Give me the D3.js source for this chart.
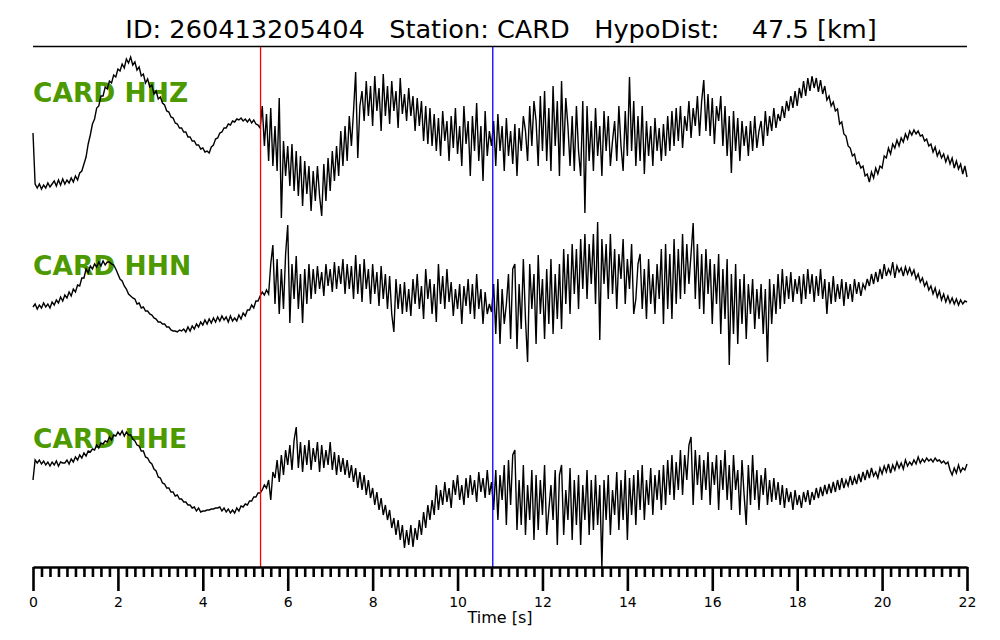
<!DOCTYPE html>
<html>
<head>
<meta charset="utf-8">
<script src="https://cdn.jsdelivr.net/npm/d3@7"></script>
<style>
  html, body { margin: 0; padding: 0; background: #ffffff; }
  svg { display: block; }
  text { font-family: "DejaVu Sans", sans-serif; }
</style>
</head>
<body>
<svg id="chart" width="1000" height="640"></svg>
<script>
// ---- data ----
const titleText = "ID: 260413205404   Station: CARD   HypoDist:    47.5 [km]";
const station = "CARD";
const channels = ["HHZ", "HHN", "HHE"];
const sampleStep = 0.05;            // seconds between samples
const pPick = 5.36;                 // red marker [s]
const sPick = 10.83;                // blue marker [s]
const majorTicks = [0, 2, 4, 6, 8, 10, 12, 14, 16, 18, 20, 22];
const xLabel = "Time [s]";

// amplitudes (relative units)
const hhz = [
3,-48,-52,-48,-53,-49,-52,-47,-51,-48,
-45,-50,-44,-49,-43,-48,-44,-47,-42,-46,
-40,-44,-37,-35,-28,-21,-8,1,12,17,
28,30,40,40,49,47,55,53,61,59,
67,65,72,68,77,73,79,71,74,66,
69,60,62,53,57,49,51,42,45,37,
39,33,31,25,24,19,18,13,12,8,
8,4,4,-1,-1,-5,-5,-9,-9,-13,
-12,-16,-15,-17,-11,-9,-3,-2,3,4,
8,8,12,11,15,14,17,16,18,15,
17,14,17,13,16,12,11,8,30,-10,
22,-25,28,-30,10,-35,38,-82,-5,-40,
-10,-50,-8,-55,-15,-60,-20,-70,-25,-58,
-30,-75,-35,-65,-30,-60,-80,-28,-65,-22,
-55,-15,-45,-10,-40,5,-30,10,-25,20,
-10,25,64,-22,30,45,15,55,20,50,
10,60,25,48,5,62,20,50,12,55,
25,45,8,58,22,42,15,48,20,40,
5,38,10,35,-5,30,-8,28,-10,22,
-15,18,-20,25,-5,15,-25,20,-12,28,
-18,10,-30,30,-8,15,-40,20,-15,33,
-25,10,-45,25,-20,5,-10,15,-30,22,
-15,10,-35,18,-20,5,-28,12,-40,8,
-15,20,5,-25,30,-10,35,15,-30,40,
-15,45,-25,28,-35,50,-10,35,-40,55,
-20,38,10,-30,20,-35,30,-15,-40,35,
-77,30,-25,15,-35,28,-20,10,-40,25,
-15,20,-30,-5,15,-25,30,-10,-35,25,
-20,59,-15,35,-30,20,-25,30,-38,15,
-20,10,-30,18,-15,8,-25,12,-20,20,
-15,25,-10,28,-5,30,-12,20,5,35,
-2,28,10,40,0,35,56,5,42,0,
38,-8,30,15,40,-10,30,-20,20,-37,
25,-15,18,-25,15,-10,10,-20,15,-15,
20,-12,5,15,-10,25,0,20,5,28,
8,22,15,30,18,35,25,40,28,45,
30,48,38,55,40,58,45,60,48,58,
44,56,42,50,36,40,30,34,25,27,
12,14,2,0,-10,-12,-20,-18,-28,-26,
-32,-30,-40,-38,-46,-36,-42,-32,-38,-30,
-32,-20,-22,-12,-18,-8,-12,-4,-10,-2,
-6,2,-3,5,1,6,2,5,0,1,
-5,-3,-10,-8,-16,-11,-20,-15,-22,-18,
-26,-20,-28,-22,-32,-25,-33,-28,-38,-30,
-41];

const hhn = [
-13,-10,-15,-11,-14,-9,-13,-10,-14,-8,
-11,-6,-9,-3,-7,-1,-4,2,-2,5,
2,9,8,16,16,25,21,28,25,30,
27,32,28,33,29,32,32,30,29,25,
20,15,13,8,5,0,-2,-4,-5,-10,
-9,-14,-13,-17,-17,-20,-21,-24,-25,-28,
-28,-30,-30,-33,-33,-36,-37,-37,-38,-36,
-37,-35,-38,-33,-37,-32,-35,-30,-33,-28,
-31,-26,-30,-25,-29,-24,-28,-23,-27,-22,
-26,-23,-28,-22,-27,-24,-27,-21,-25,-19,
-22,-16,-16,-11,-14,-7,-7,-2,2,-1,
4,0,30,49,-10,35,-20,25,-15,40,
69,-29,30,-5,38,-15,20,-29,25,-10,
30,-5,25,0,28,5,22,-2,30,8,
25,2,32,5,28,10,35,0,30,5,
28,-5,39,0,30,-8,35,5,25,-10,
30,0,22,-12,28,-5,20,-15,18,-20,
-38,15,-15,10,-20,12,-18,5,-22,15,
-10,20,-15,8,-25,25,-5,15,-20,10,
-28,30,-10,18,-15,25,-8,12,-22,5,
-15,10,-30,8,-12,15,-20,10,-25,20,
-15,5,-30,2,-20,-10,-18,10,-40,15,
-50,5,-30,-10,20,-45,25,30,-55,10,
-35,35,-25,-68,30,-15,20,-50,39,-20,
15,-45,25,-30,35,-40,20,-25,30,-35,
45,-10,40,-20,50,0,45,-15,55,5,
60,-5,50,10,60,-10,72,-46,55,10,
50,-5,60,0,45,-15,40,15,55,-10,
35,5,50,-20,-5,30,40,-15,25,-25,
35,-10,20,-20,30,-5,45,-30,50,-15,
40,-25,55,-10,45,-5,60,0,50,10,
40,71,-5,50,-15,40,-20,45,0,35,
-30,30,-10,40,-40,25,-25,35,-71,20,
-40,30,-50,15,-30,20,-45,10,-20,15,
-35,5,-25,10,-40,5,-68,15,-30,10,
-20,20,-15,25,-10,18,-5,22,-8,15,
0,18,-10,20,-5,25,0,20,-8,18,
-2,25,-5,15,-20,12,-10,18,-8,10,
-5,15,-12,12,-5,10,-8,15,0,12,
-2,10,5,15,8,20,10,22,12,25,
15,30,18,25,20,32,16,28,22,26,
18,27,20,26,19,24,15,20,12,16,
8,12,4,8,0,6,-3,3,-6,0,
-8,-2,-9,-4,-10,-5,-11,-6,-10,-7,
-8];

const hhe = [
10,30,27,30,26,29,25,28,24,28,
25,29,24,28,27,27,30,26,31,28,
33,30,35,32,37,34,39,38,41,40,
45,42,47,46,49,48,53,50,55,54,
58,55,59,54,58,55,55,51,49,45,
44,39,39,33,32,28,26,21,19,13,
12,7,6,2,2,-2,-2,-6,-5,-9,
-9,-12,-12,-15,-15,-18,-17,-21,-18,-22,
-21,-21,-20,-20,-19,-19,-18,-18,-17,-21,
-18,-22,-19,-23,-20,-23,-18,-21,-16,-17,
-14,-15,-11,-11,-7,-7,-3,-3,0,5,
2,10,-10,18,12,30,8,35,15,40,
25,45,20,50,63,22,48,18,45,25,
50,20,42,28,48,18,45,22,40,25,
48,20,38,15,35,18,32,15,30,12,
25,8,22,2,18,0,15,-5,10,-8,
2,-15,-2,-20,-8,-25,-15,-30,-20,-38,
-28,-45,-30,-50,-35,-58,-40,-55,-35,-57,
-38,-50,-30,-45,-22,-38,-15,-30,-10,-25,
5,-20,0,-15,8,-12,2,-18,10,-5,
15,-10,5,-15,12,-8,15,-5,10,-12,
18,-2,12,-8,20,-5,8,-20,20,-30,
15,-10,25,-35,30,-15,35,40,-40,10,
-35,25,-45,5,-30,20,-50,15,-40,10,
-25,25,-45,-20,5,-30,20,-55,15,25,
-45,0,-30,22,-50,10,-35,15,-55,5,
-30,20,-45,10,-40,15,-35,5,-77,10,
-30,15,-45,0,-25,18,-40,10,-30,20,
-50,12,-25,15,-35,20,-20,25,-30,10,
-15,22,-25,15,-10,20,-20,25,-15,30,
-5,35,-10,28,0,40,-5,35,10,45,
53,-15,40,5,35,-10,30,0,38,-15,
28,5,35,-20,30,0,40,-10,25,-20,
35,0,20,-25,30,-5,-35,25,-15,35,
-10,20,-20,15,-5,22,-15,10,-12,12,
-10,8,-15,5,-18,2,-12,-2,-20,0,
-15,-5,-18,-2,-12,0,-15,-2,-10,2,
-8,3,-6,5,-4,6,-3,8,-2,10,
0,12,2,10,4,14,5,13,6,16,
8,18,10,20,12,22,14,18,12,22,
16,24,18,26,17,25,20,28,22,27,
21,30,24,28,25,30,26,33,27,31,
28,32,29,31,28,32,29,30,27,29,
26,28,20,15,22,17,25,18,22,20,
26];

const traces = [hhz, hhn, hhe];

// ---- layout ----
const W = 1000, H = 640;
const left = 33, right = 967;
const topLine = 46.5, axisY = 567;
const traceCenters = [136, 294, 490];
const labelBaselines = [102, 275, 448];
const labelColor = "#4c9900";

const svg = d3.select("#chart");
svg.append("rect").attr("width", W).attr("height", H).attr("fill", "#fff");

const x = d3.scaleLinear().domain([0, 22]).range([left, right]);

// title
svg.append("text")
  .attr("x", (left + right) / 2 + 1)
  .attr("y", 38)
  .attr("text-anchor", "middle")
  .attr("font-size", 25.6)
  .attr("fill", "#000")
  .style("white-space", "pre")
  .attr("xml:space", "preserve")
  .text(titleText);

svg.append("line")
  .attr("x1", left).attr("x2", right)
  .attr("y1", topLine).attr("y2", topLine)
  .attr("stroke", "#000").attr("stroke-width", 1.5);

// channel labels (under the traces)
channels.forEach((ch, k) => {
  svg.append("text")
    .attr("x", left)
    .attr("y", labelBaselines[k])
    .attr("font-size", 26.5)
    .attr("font-weight", "bold")
    .attr("fill", labelColor)
    .text(station + " " + ch);
});

// traces
traces.forEach((vals, k) => {
  const c = traceCenters[k];
  const y = d3.scaleLinear().domain([-100, 100]).range([c + 100, c - 100]);
  const line = d3.line()
    .x((d, i) => x(i * sampleStep))
    .y(d => y(d));
  svg.append("path")
    .datum(vals)
    .attr("d", line)
    .attr("fill", "none")
    .attr("stroke", "#000")
    .attr("stroke-width", 1.4)
    .attr("stroke-linejoin", "miter");
});

// pick markers
[[pPick, "#ff0000"], [sPick, "#0000ff"]].forEach(([t, col]) => {
  svg.append("line")
    .attr("x1", x(t)).attr("x2", x(t))
    .attr("y1", topLine + 0.5).attr("y2", axisY)
    .attr("stroke", col).attr("stroke-width", 1.3);
});

// axis: minor ticks
const minorVals = d3.range(0, 110).map(i => i * 0.2).filter(v => Math.abs(v / 2 - Math.round(v / 2)) > 1e-6);
const minorAxis = d3.axisBottom(x).tickValues(minorVals).tickSize(10).tickSizeOuter(0).tickFormat("");
const gMinor = svg.append("g").attr("transform", `translate(0,${axisY})`).call(minorAxis);
gMinor.select(".domain").remove();
gMinor.selectAll(".tick line").attr("stroke", "#000").attr("stroke-width", 2.6);

const majorAxis = d3.axisBottom(x).tickValues(majorTicks).tickSize(24).tickSizeOuter(0).tickPadding(6)
  .tickFormat(d3.format("d"));
const gMajor = svg.append("g").attr("transform", `translate(0,${axisY})`).call(majorAxis);
gMajor.select(".domain").attr("stroke", "#000").attr("stroke-width", 2.6);
gMajor.selectAll(".tick line").attr("stroke", "#000").attr("stroke-width", 2.6);
gMajor.selectAll(".tick text")
  .attr("font-family", "DejaVu Sans, sans-serif")
  .attr("font-size", 14).attr("fill", "#000");

svg.append("text")
  .attr("x", (left + right) / 2)
  .attr("y", 623)
  .attr("text-anchor", "middle")
  .attr("font-size", 16)
  .attr("fill", "#000")
  .text(xLabel);
</script>
</body>
</html>
